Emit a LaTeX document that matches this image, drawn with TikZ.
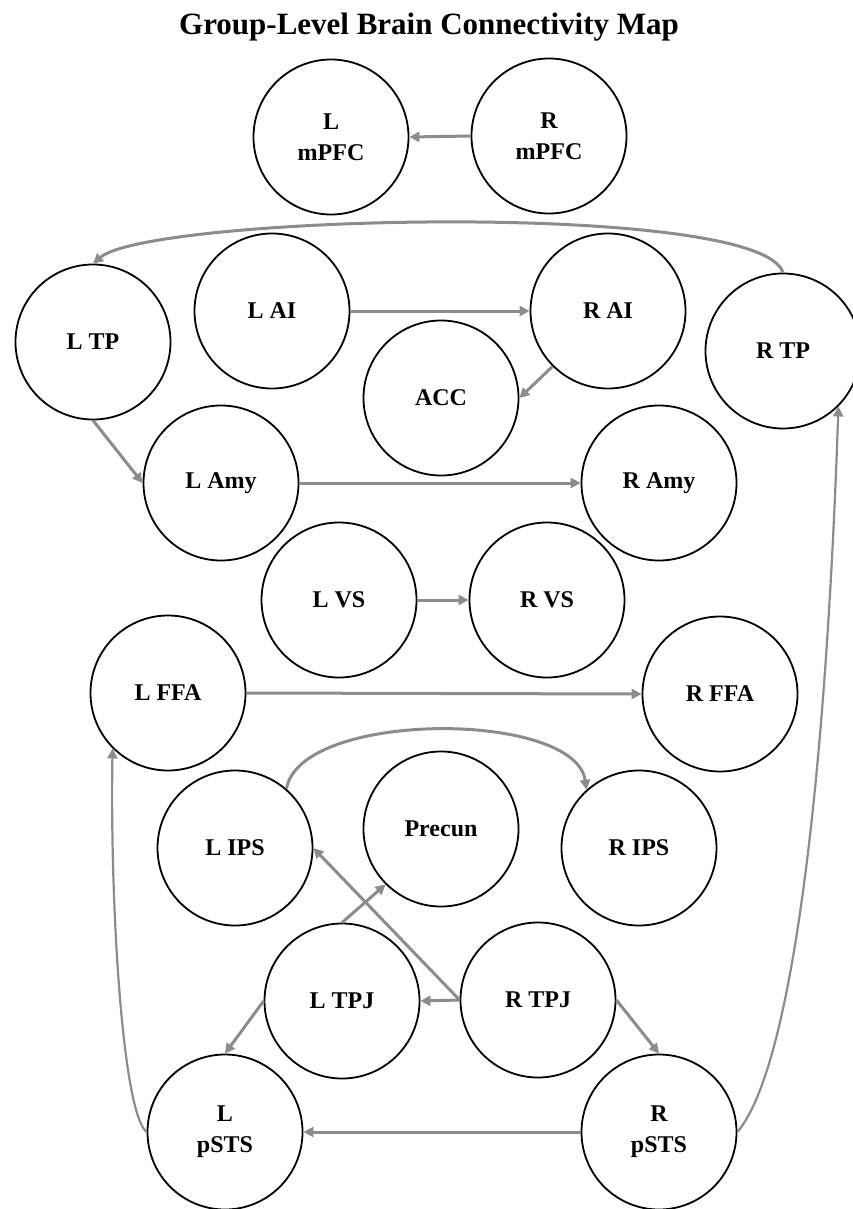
\documentclass[tikz,border=0pt]{standalone}
\usepackage{fontspec}
\setmainfont{Liberation Serif}
\usetikzlibrary{arrows.meta}
\definecolor{arrgray}{RGB}{140,140,140}
\begin{document}
\begin{tikzpicture}[x=1pt,y=-1pt,
  region/.style={circle,draw=black,line width=1.8pt,minimum size=155pt,inner sep=0pt,align=center,font=\bfseries\fontsize{24}{31}\selectfont},
  link/.style={draw=arrgray,line width=3pt,-{Triangle[length=10pt,width=10pt]}},
  thinlink/.style={draw=arrgray,line width=2.2pt,-{Triangle[length=10pt,width=10pt]}},
  titlefont/.style={font=\bfseries\fontsize{31}{36}\selectfont}
]
\useasboundingbox (0,0) rectangle (853,1209);
\clip (0,0) rectangle (853,1209);

\node[titlefont,anchor=base] (title) at (429,35) {Group-Level Brain Connectivity Map};

\node[region] (LmPFC) at (331,137) {L\\mPFC};
\node[region] (RmPFC) at (549,136) {R\\mPFC};
\node[region] (LTP) at (93,342) {L TP};
\node[region] (LAI) at (272,311) {L AI};
\node[region] (RAI) at (608,311) {R AI};
\node[region] (ACC) at (441,398) {ACC};
\node[region] (RTP) at (783,351) {R TP};
\node[region] (LAmy) at (221,483) {L Amy};
\node[region] (RAmy) at (659,483) {R Amy};
\node[region] (LVS) at (339,600) {L VS};
\node[region] (RVS) at (547,600) {R VS};
\node[region] (LFFA) at (168,693) {L FFA};
\node[region] (RFFA) at (720,694) {R FFA};
\node[region] (LIPS) at (235,848) {L IPS};
\node[region] (Precun) at (441,829) {Precun};
\node[region] (RIPS) at (639,848) {R IPS};
\node[region] (LTPJ) at (342,1001) {L TPJ};
\node[region] (RTPJ) at (538,1000) {R TPJ};
\node[region] (LpSTS) at (225,1132) {L\\pSTS};
\node[region] (RpSTS) at (659,1132) {R\\pSTS};

\draw[link] (RmPFC.west) -- (LmPFC.east);
\draw[link] (RTP.north) .. controls (760,200) and (150,215) .. (LTP.north);
\draw[link] (LAI.east) -- (RAI.west);
\draw[link] (RAI.south west) -- (ACC.east);
\draw[link] (LTP.south) -- (LAmy.west);
\draw[link] (LAmy.east) -- (RAmy.west);
\draw[link] (LVS.east) -- (RVS.west);
\draw[link] (LFFA.east) -- (RFFA.west);
\draw[link] (LIPS.49) .. controls (300,710) and (575,710) .. (RIPS.132);
\draw[link] (RTPJ.west) -- (LTPJ.east);
\draw[link] (RTPJ.west) -- (LIPS.east);
\draw[link] (LTPJ.north) -- (Precun.south west);
\draw[link] (LTPJ.west) -- (LpSTS.north);
\draw[link] (RTPJ.east) -- (RpSTS.north);
\draw[link] (RpSTS.west) -- (LpSTS.east);
\draw[thinlink] (LpSTS.west) .. controls (122,1112) and (110,900) .. (LFFA.south west);
\draw[thinlink] (RpSTS.east) .. controls (790,1070) and (825,800) .. (RTP.south east);
\end{tikzpicture}
\end{document}
